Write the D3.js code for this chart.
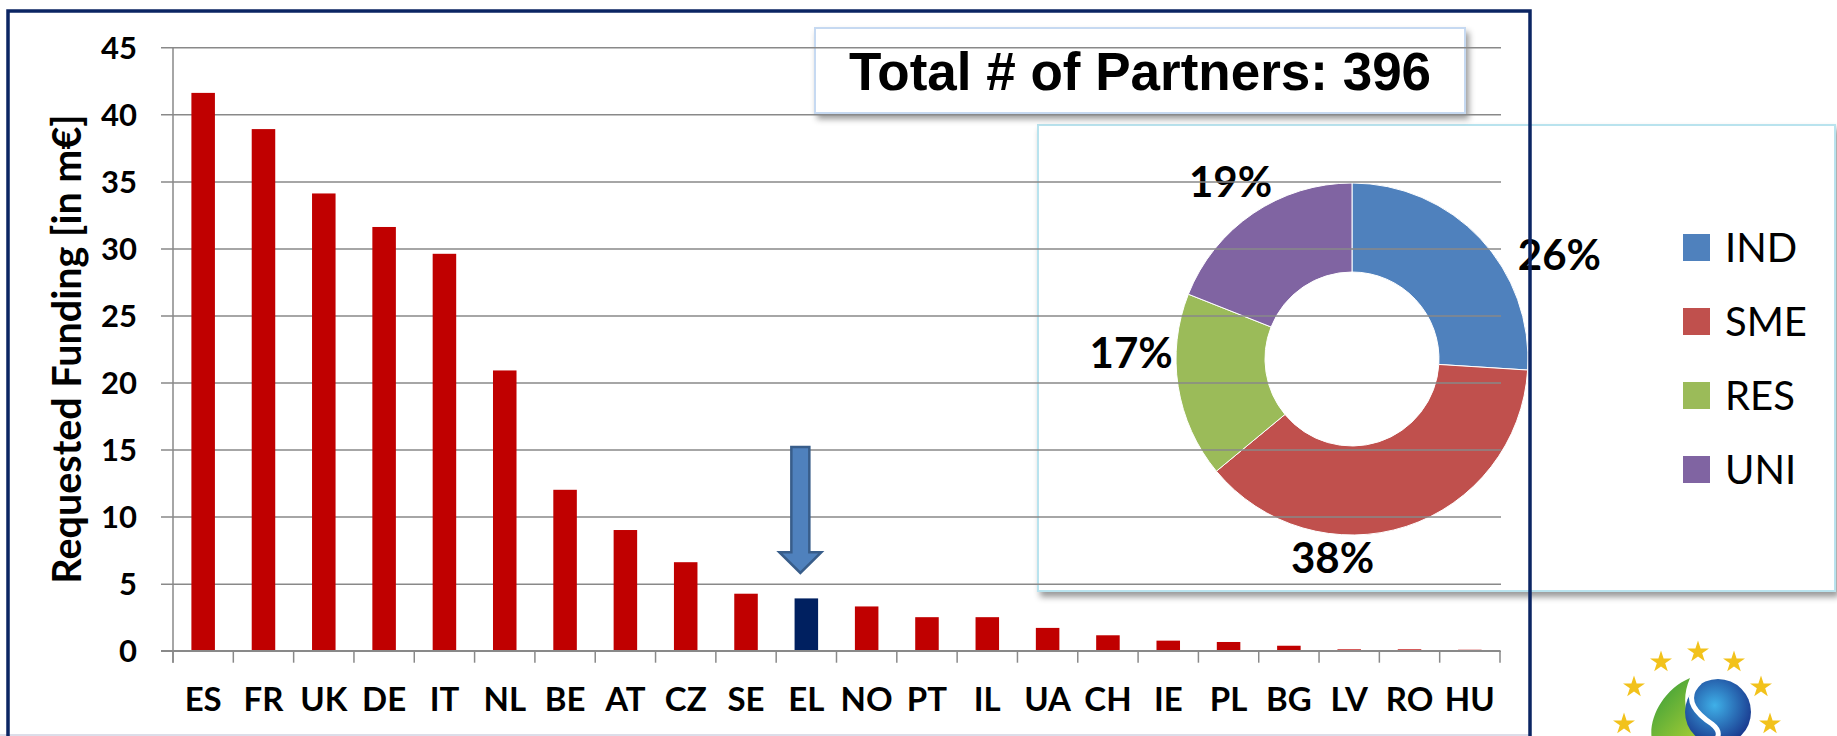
<!DOCTYPE html>
<html lang="en">
<head>
    <meta charset="UTF-8">
    <title>Requested Funding per Country</title>
    <script src="https://d3js.org/d3.v7.min.js"></script>
    <style>
        body { margin: 0; background: #fff; }
        .tick-label { font-family: Lato, "Liberation Sans", sans-serif; font-weight: bold; font-size: 31px; fill: #000; }
        .cat-label { font-family: Lato, "Liberation Sans", sans-serif; font-weight: bold; font-size: 33px; fill: #000; }
        .axis-title { font-family: Lato, "Liberation Sans", sans-serif; font-weight: bold; font-size: 39.5px; fill: #000; }
        .pct-label { font-family: Lato, "Liberation Sans", sans-serif; font-weight: bold; font-size: 42px; fill: #000; }
        .legend-label { font-family: Lato, "Liberation Sans", sans-serif; font-size: 40px; fill: #000; }
        .title { font-family: "Liberation Sans", Arial, sans-serif; font-weight: bold; font-size: 53px; fill: #000; }
    </style>
</head>
<body>
    <script>
        // bar chart data
        const countries = ["ES", "FR", "UK", "DE", "IT", "NL", "BE", "AT", "CZ", "SE", "EL",
                           "NO", "PT", "IL", "UA", "CH", "IE", "PL", "BG", "LV", "RO", "HU"];
        const funding = [41.6, 38.9, 34.1, 31.6, 29.6, 20.9, 12.0, 9.0, 6.6, 4.25, 3.9,
                         3.3, 2.5, 2.5, 1.7, 1.15, 0.75, 0.65, 0.37, 0.1, 0.1, 0.07];
        const highlighted = "EL";
        const yTicks = [0, 5, 10, 15, 20, 25, 30, 35, 40, 45];

        // donut data
        const partnerTypes = ["IND", "SME", "RES", "UNI"];
        const partnerShares = [26, 38, 17, 19];
        const totalPartners = 396;

        const barColor = "#C00000";
        const highlightColor = "#002060";
        const pieColors = ["#4F81BD", "#C0504D", "#9BBB59", "#8064A2"];

        const W = 1837, H = 736;
        const svg = d3.select("body").append("svg")
            .attr("width", W)
            .attr("height", H);

        const defs = svg.append("defs");
        defs.append("filter").attr("id", "shadow")
            .attr("x", "-5%").attr("y", "-10%").attr("width", "115%").attr("height", "130%")
            .append("feDropShadow")
            .attr("dx", 3).attr("dy", 5).attr("stdDeviation", 3)
            .attr("flood-color", "#000").attr("flood-opacity", 0.4);
        const globeGrad = defs.append("radialGradient").attr("id", "globe")
            .attr("cx", "45%").attr("cy", "40%").attr("r", "60%");
        globeGrad.append("stop").attr("offset", "0%").attr("stop-color", "#3fb0e8");
        globeGrad.append("stop").attr("offset", "100%").attr("stop-color", "#1a3a8f");
        const leafGrad = defs.append("linearGradient").attr("id", "leaf")
            .attr("x1", "0").attr("y1", "0").attr("x2", "1").attr("y2", "1");
        leafGrad.append("stop").attr("offset", "0%").attr("stop-color", "#2f9a3a");
        leafGrad.append("stop").attr("offset", "100%").attr("stop-color", "#b5d334");

        // scales
        const plot = { left: 173, right: 1500, top: 47.3, bottom: 650.7 };
        const x = d3.scaleBand()
            .domain(countries)
            .range([plot.left, plot.right])
            .paddingInner(0.61)
            .paddingOuter(0.305);
        const y = d3.scaleLinear()
            .domain([0, 45])
            .range([plot.bottom, plot.top]);

        // donut box
        const pieBox = { x: 1038, y: 125, w: 797, h: 466 };
        svg.append("rect")
            .attr("x", pieBox.x).attr("y", pieBox.y)
            .attr("width", pieBox.w).attr("height", pieBox.h)
            .attr("fill", "#fff")
            .attr("stroke", "#b9e3ee")
            .attr("stroke-width", 2)
            .attr("filter", "url(#shadow)");

        const pieCenter = [1352, 359];
        const pie = d3.pie().sort(null).startAngle(0).endAngle(2 * Math.PI);
        const arc = d3.arc().innerRadius(87).outerRadius(176);
        const pieG = svg.append("g").attr("transform", `translate(${pieCenter})`);
        pieG.selectAll("path")
            .data(pie(partnerShares))
            .enter()
            .append("path")
            .attr("d", arc)
            .attr("fill", (d, i) => pieColors[i])
            .attr("stroke", "#fff")
            .attr("stroke-width", 1);

        // label placement (angle in degrees clockwise from top, radius)
        const labelPlace = [[63.4, 232], [185.6, 200], [271.5, 221], [325.5, 214.5]];
        pieG.selectAll(".pct-label")
            .data(partnerShares)
            .enter()
            .append("text")
            .attr("class", "pct-label")
            .attr("text-anchor", "middle")
            .attr("x", (d, i) => labelPlace[i][1] * Math.sin(labelPlace[i][0] * Math.PI / 180))
            .attr("y", (d, i) => -labelPlace[i][1] * Math.cos(labelPlace[i][0] * Math.PI / 180))
            .attr("dy", "0.36em")
            .text(d => d + "%");

        // legend
        const legend = svg.append("g").attr("transform", "translate(1683,234)");
        const legendItem = legend.selectAll("g")
            .data(partnerTypes)
            .enter()
            .append("g")
            .attr("transform", (d, i) => `translate(0,${i * 74})`);
        legendItem.append("rect")
            .attr("width", 27).attr("height", 27)
            .attr("fill", (d, i) => pieColors[i]);
        legendItem.append("text")
            .attr("class", "legend-label")
            .attr("x", 42)
            .attr("y", 28)
            .text(d => d);

        // title box
        svg.append("rect")
            .attr("x", 815).attr("y", 28)
            .attr("width", 650).attr("height", 85)
            .attr("fill", "#fff")
            .attr("stroke", "#c6d9f1")
            .attr("stroke-width", 2)
            .attr("filter", "url(#shadow)");
        svg.append("text")
            .attr("class", "title")
            .attr("x", 1140)
            .attr("y", 90)
            .attr("text-anchor", "middle")
            .text(`Total # of Partners: ${totalPartners}`);

        // gridlines + y tick labels
        const yAxis = svg.append("g")
            .attr("transform", "translate(161,0)")
            .call(d3.axisLeft(y)
                .tickValues(yTicks)
                .tickSize(-(1501 - 161))
                .tickPadding(24));
        yAxis.select(".domain").remove();
        yAxis.selectAll("line")
            .attr("stroke", "#898989")
            .attr("stroke-width", 1.5);
        yAxis.selectAll("text")
            .attr("class", "tick-label")
            .attr("dy", "0.36em")
            .attr("font-family", null)
            .attr("font-size", null);

        // bars
        svg.selectAll(".bar")
            .data(countries)
            .enter()
            .append("rect")
            .attr("class", "bar")
            .attr("x", d => x(d))
            .attr("width", x.bandwidth())
            .attr("y", (d, i) => y(funding[i]))
            .attr("height", (d, i) => y(0) - y(funding[i]))
            .attr("fill", d => d === highlighted ? highlightColor : barColor);

        // arrow pointing at the highlighted country
        const ax = x(highlighted) + x.bandwidth() / 2 - 6;
        const aTop = y(15.2), aNeck = y(7.35), aTip = y(5.8);
        svg.append("path")
            .attr("d", `M${ax - 9},${aTop} L${ax + 9},${aTop} L${ax + 9},${aNeck} L${ax + 21},${aNeck}
                        L${ax},${aTip} L${ax - 21},${aNeck} L${ax - 9},${aNeck} Z`)
            .attr("fill", "#4F81BD")
            .attr("stroke", "#385D8A")
            .attr("stroke-width", 2.5)
            .attr("stroke-linejoin", "miter");

        // x axis: ticks at category boundaries and labels
        const xAxis = svg.append("g")
            .attr("transform", `translate(0,${plot.bottom})`)
            .call(d3.axisBottom(x).tickSize(0).tickPadding(37));
        xAxis.select(".domain").remove();
        xAxis.selectAll("text")
            .attr("class", "cat-label")
            .attr("dy", "0.72em")
            .attr("font-family", null)
            .attr("font-size", null);
        const boundaries = d3.range(countries.length + 1).map(i => plot.left + i * x.step());
        xAxis.selectAll(".bound")
            .data(boundaries)
            .enter()
            .append("line")
            .attr("class", "bound")
            .attr("x1", d => d).attr("x2", d => d)
            .attr("y1", 0).attr("y2", 12)
            .attr("stroke", "#898989")
            .attr("stroke-width", 1.5);
        xAxis.append("line")
            .attr("x1", 161).attr("x2", plot.right)
            .attr("y1", 0).attr("y2", 0)
            .attr("stroke", "#898989")
            .attr("stroke-width", 1.5);
        svg.append("line")
            .attr("x1", plot.left).attr("x2", plot.left)
            .attr("y1", plot.top).attr("y2", plot.bottom + 12)
            .attr("stroke", "#898989")
            .attr("stroke-width", 1.5);

        // y axis title
        svg.append("text")
            .attr("class", "axis-title")
            .attr("transform", `translate(81,${(plot.top + plot.bottom) / 2}) rotate(-90)`)
            .attr("text-anchor", "middle")
            .text("Requested Funding [in m€]");

        // outer frame
        svg.append("line")
            .attr("x1", 0).attr("x2", 1531)
            .attr("y1", 735).attr("y2", 735)
            .attr("stroke", "#dcdde9")
            .attr("stroke-width", 2);
        svg.append("rect")
            .attr("x", 8).attr("y", 11)
            .attr("width", 1522).attr("height", 760)
            .attr("fill", "none")
            .attr("stroke", "#0b2563")
            .attr("stroke-width", 3.5);

        // logo (bottom right)
        const stars = [[1698, 652], [1661, 662], [1734, 662], [1634, 687], [1761, 687], [1624, 724], [1770, 724]];
        svg.selectAll(".star")
            .data(stars)
            .enter()
            .append("path")
            .attr("class", "star")
            .attr("transform", d => `translate(${d})`)
            .attr("d", d3.symbol().type(d3.symbolStar).size(150))
            .attr("fill", "#f2c21b");
        svg.append("path")
            .attr("d", "M1690,678 C1662,690 1648,720 1652,740 L1708,740 C1690,728 1678,706 1690,678 Z")
            .attr("fill", "url(#leaf)");
        svg.append("circle")
            .attr("cx", 1718).attr("cy", 712).attr("r", 33)
            .attr("fill", "url(#globe)");
        svg.append("path")
            .attr("d", "M1700,682 C1680,700 1700,716 1712,724 C1722,732 1718,738 1714,742")
            .attr("fill", "none")
            .attr("stroke", "#fff")
            .attr("stroke-width", 5);
    </script>
</body>
</html>
